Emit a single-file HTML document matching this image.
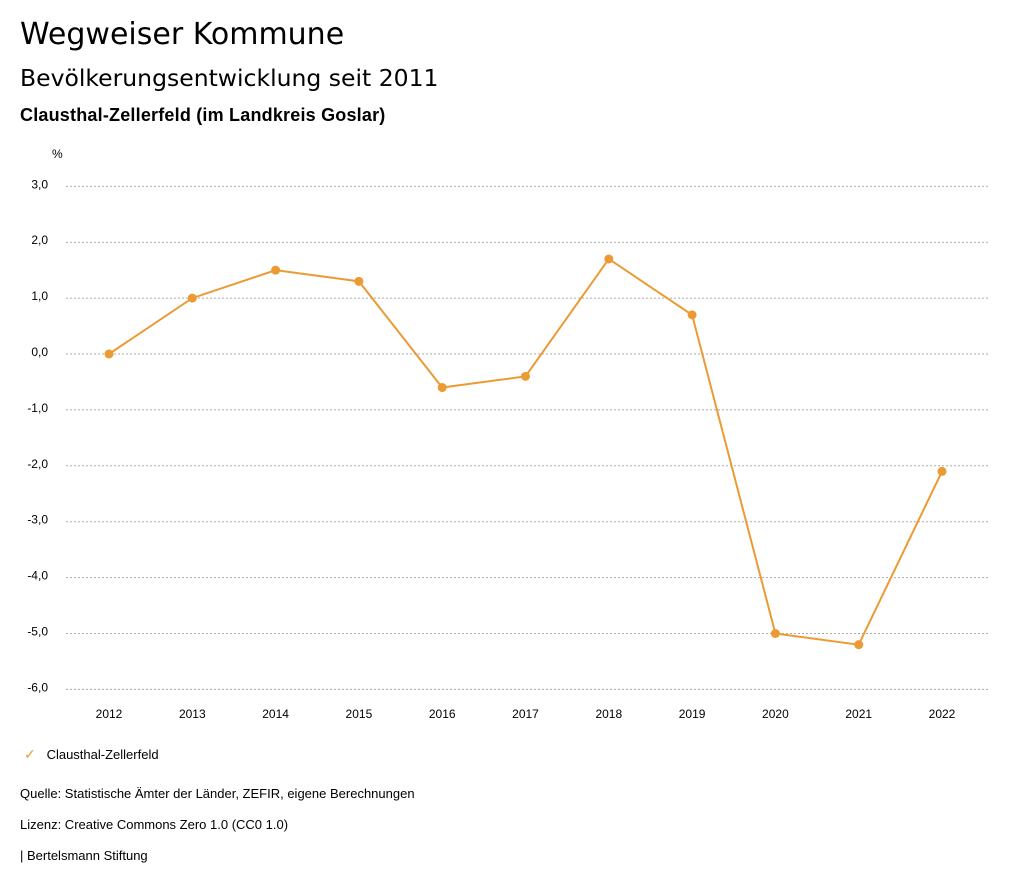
<!DOCTYPE html>
<html><head><meta charset="utf-8"><style>
body{margin:0;width:1024px;height:888px;background:#fff;font-family:"Liberation Sans",sans-serif;color:#000;overflow:hidden}
.t{position:absolute;left:20px;white-space:nowrap}
</style></head><body>
<div class="t" style="top:17px;font-size:30px;font-family:'DejaVu Sans',sans-serif">Wegweiser Kommune</div>
<div class="t" style="top:64px;font-size:23.5px;font-family:'DejaVu Sans',sans-serif">Bevölkerungsentwicklung seit 2011</div>
<div class="t" style="top:105px;font-size:18px;font-weight:bold;letter-spacing:0.2px">Clausthal-Zellerfeld (im Landkreis Goslar)</div>
<svg id="chart" width="1024" height="888" style="position:absolute;left:0;top:0"></svg>
<div class="t" style="top:746px;left:24px;font-size:13px"><span style="color:#ec9a33;font-size:14px">✓</span>&nbsp;&nbsp;&nbsp;Clausthal-Zellerfeld</div>
<div class="t" style="top:786px;font-size:13px">Quelle: Statistische Ämter der Länder, ZEFIR, eigene Berechnungen</div>
<div class="t" style="top:817px;font-size:13px">Lizenz: Creative Commons Zero 1.0 (CC0 1.0)</div>
<div class="t" style="top:848px;font-size:13px">| Bertelsmann Stiftung</div>
<script>
const years=["2012","2013","2014","2015","2016","2017","2018","2019","2020","2021","2022"];
const values=[0,1.0,1.5,1.3,-0.6,-0.4,1.7,0.7,-5.0,-5.2,-2.1];
const yTicks=[3,2,1,0,-1,-2,-3,-4,-5,-6];
const svg=document.getElementById('chart');const NS='http://www.w3.org/2000/svg';
const y=v=>354-v*55.9;const x=i=>109+i*83.3;
function mk(t,a){const e=document.createElementNS(NS,t);for(const k in a)e.setAttribute(k,a[k]);svg.appendChild(e);return e;}
let u=mk('text',{x:52,y:158,'font-size':12,'font-family':'Liberation Sans'});u.textContent='%';


yTicks.forEach(v=>{
 const g=mk('line',{x1:66,x2:990,y1:y(v),y2:y(v),stroke:'#aaa','stroke-dasharray':'2,2','stroke-width':1});
 
 
 const t=mk('text',{x:48,y:y(v)+2,'text-anchor':'end','font-size':12,'font-family':'Liberation Sans'});
 t.textContent=v.toFixed(1).replace('.',',');
 
 
});
years.forEach((yr,i)=>{
 const t=mk('text',{x:x(i),y:718,'text-anchor':'middle','font-size':12,'font-family':'Liberation Sans'});
 t.textContent=yr;
 
 
});
const p=mk('polyline',{points:values.map((v,i)=>x(i)+','+y(v)).join(' '),fill:'none',stroke:'#ec9a33','stroke-width':2});


values.forEach((v,i)=>{
 const c=mk('circle',{cx:x(i),cy:y(v),r:4.5,fill:'#ec9a33'});
 
 
});
</script>
</body></html>
